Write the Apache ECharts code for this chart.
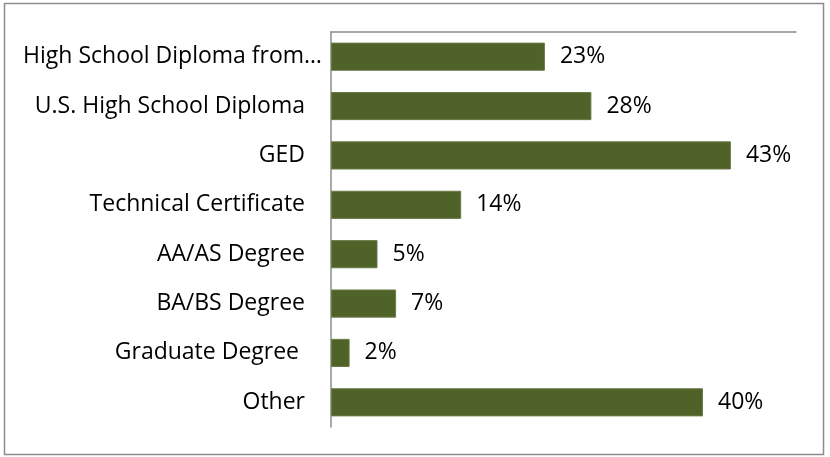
<!DOCTYPE html>
<html><head><meta charset="utf-8">
<script src="https://cdn.jsdelivr.net/npm/echarts@6/dist/echarts.min.js"></script>
<style>html,body{margin:0;padding:0;background:#fff}#c{width:830px;height:457px}</style>
</head><body><div id="c"></div>
<script>
var categories = ["High School Diploma from…","U.S. High School Diploma","GED","Technical Certificate","AA/AS Degree","BA/BS Degree","Graduate Degree ","Other"];
var values = [23, 28, 43, 14, 5, 7, 2, 40];
var chart = echarts.init(document.getElementById('c'));
var font = '"Open Sans", Lato, sans-serif';
chart.setOption({
  animation: false,
  graphic: [{type:'rect', shape:{x:4.5,y:3.5,width:819,height:451}, style:{fill:'none', stroke:'#8c8c8c', lineWidth:1.5}}],
  grid: {left: 331, right: 34, top: 32, bottom: 30, containLabel: false},
  xAxis: {type:'value', min:0, max:50, position:'top', splitLine:{show:false}, axisLabel:{show:false}, axisTick:{show:false}, axisLine:{show:true, lineStyle:{color:'#8c8c8c', width:1.5}}},
  yAxis: {type:'category', inverse:true, data:categories, axisTick:{show:false}, axisLine:{show:true, lineStyle:{color:'#8c8c8c', width:1.5}},
    axisLabel:{color:'#000', fontFamily:font, fontSize:23, margin:9,
      formatter:function(v, i){ return i === 0 ? '{t|' + v + '}' : '{t|' + v + '}{s|}'; },
      rich:{t:{color:'#000', fontFamily:font, fontSize:23}, s:{width:17}}}},
  series: [{type:'bar', data:values, barCategoryGap:'43%', itemStyle:{color:'#4F6228', borderColor:'#6a7b48', borderWidth:1},
    label:{show:true, position:'right', distance:15, formatter:'{c}%', color:'#000', fontFamily:font, fontSize:23}}]
});
</script></body></html>
